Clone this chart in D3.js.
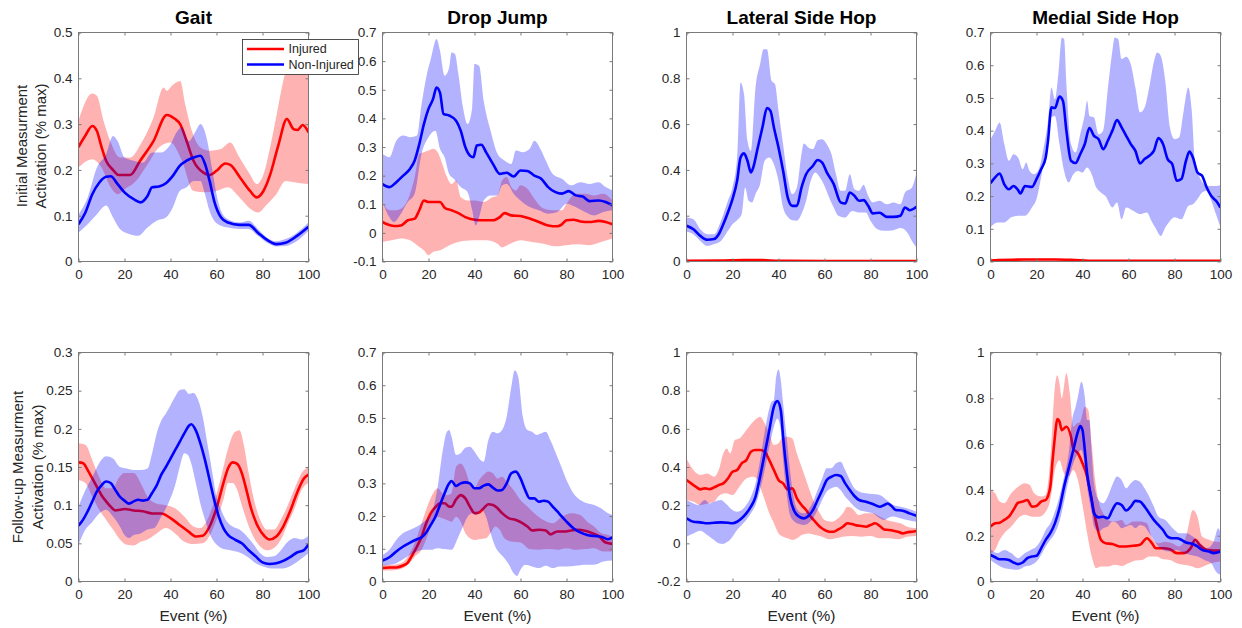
<!DOCTYPE html>
<html>
<head>
<meta charset="utf-8">
<script src="https://cdn.jsdelivr.net/npm/d3@7"></script>
<style>
body { margin: 0; background: #fff; }
text { font-family: "Liberation Sans", Arial, sans-serif; }
</style>
</head>
<body>
<svg id="chart" width="1242" height="628"></svg>
<script>
// ---- categories / labels
var titles = ["Gait", "Drop Jump", "Lateral Side Hop", "Medial Side Hop"];
var seriesNames = ["Injured", "Non-Injured"];
var xTicks = [0, 20, 40, 60, 80, 100];

// y tick values per panel (row 1 then row 2)
var yTicksInit = [
	[0, 0.1, 0.2, 0.3, 0.4, 0.5],
	[-0.1, 0, 0.1, 0.2, 0.3, 0.4, 0.5, 0.6, 0.7],
	[0, 0.2, 0.4, 0.6, 0.8, 1],
	[0, 0.1, 0.2, 0.3, 0.4, 0.5, 0.6, 0.7]
];
var yTicksFollow = [
	[0, 0.05, 0.1, 0.15, 0.2, 0.25, 0.3],
	[0, 0.1, 0.2, 0.3, 0.4, 0.5, 0.6, 0.7],
	[-0.2, 0, 0.2, 0.4, 0.6, 0.8, 1],
	[0, 0.2, 0.4, 0.6, 0.8, 1]
];

// ---- Gait, initial
var gaitInitInjMean = [[0,0.25],[3,0.275],[6,0.296],[8,0.285],[10,0.25],[12,0.22],[15,0.2],[17.4,0.189],[22.5,0.189],[26.8,0.22],[32.6,0.263],[38.4,0.32],[42,0.311],[44.2,0.3],[47,0.263],[50,0.22],[54.3,0.194],[57.2,0.189],[60,0.198],[63.8,0.214],[66,0.211],[70.3,0.183],[74.6,0.154],[77.5,0.14],[80.4,0.154],[83.3,0.189],[87,0.256],[90.6,0.311],[93.5,0.289],[95.2,0.287],[97.5,0.298],[100,0.282]];
var gaitInitInjHi = [[0,0.307],[6,0.367],[8,0.362],[10.9,0.307],[13.8,0.263],[18,0.227],[22.5,0.227],[27,0.256],[32.6,0.314],[37,0.38],[38.4,0.373],[40.6,0.384],[44.2,0.394],[46.4,0.343],[49.3,0.285],[53,0.249],[57.2,0.242],[61.6,0.245],[66,0.26],[70,0.227],[74.6,0.19],[77.5,0.169],[80.4,0.19],[83.3,0.249],[86.2,0.322],[89,0.394],[92,0.45],[96,0.48],[100,0.47]];
var gaitInitInjLo = [[0,0.205],[6,0.223],[10,0.205],[14,0.162],[17,0.147],[20,0.158],[25,0.176],[30,0.212],[35,0.249],[40,0.26],[45,0.22],[50,0.154],[55,0.151],[60,0.154],[65,0.162],[70,0.14],[75,0.114],[78,0.107],[82,0.125],[86,0.147],[90,0.176],[95,0.172],[100,0.169]];
var gaitInitNonMean = [[0,0.0815],[3,0.107],[6,0.147],[9,0.172],[12,0.185],[14,0.186],[17,0.169],[20,0.151],[24,0.136],[27,0.129],[30,0.143],[32,0.162],[35,0.164],[38,0.171],[41,0.187],[44,0.209],[47,0.22],[50,0.227],[53,0.231],[55,0.213],[57,0.176],[59,0.132],[62,0.096],[65,0.085],[70,0.08],[74,0.08],[78,0.063],[82,0.047],[86,0.038],[90,0.041],[95,0.056],[100,0.076]];
var gaitInitNonHi = [[0,0.103],[4,0.14],[8,0.205],[12,0.234],[15,0.274],[17,0.263],[20,0.227],[24,0.22],[28,0.216],[32,0.238],[36,0.238],[40,0.256],[43,0.285],[45,0.293],[48,0.263],[51,0.285],[53,0.3],[56,0.263],[58,0.205],[60,0.147],[62,0.11],[65,0.092],[70,0.085],[74,0.089],[78,0.071],[82,0.052],[86,0.044],[90,0.049],[95,0.063],[100,0.085]];
var gaitInitNonLo = [[0,0.063],[4,0.0815],[8,0.103],[12,0.122],[15,0.096],[18,0.071],[22,0.06],[26,0.056],[30,0.074],[34,0.089],[38,0.096],[41,0.118],[44,0.154],[47,0.162],[50,0.176],[53,0.176],[55,0.147],[57,0.11],[59,0.089],[62,0.078],[65,0.074],[70,0.071],[74,0.071],[78,0.056],[82,0.041],[86,0.033],[90,0.034],[95,0.045],[100,0.067]];

// ---- Drop Jump, initial
var dropInitInjMean = [[0,0.038],[2,0.03],[5,0.024],[8,0.026],[11,0.044],[14,0.05],[16,0.079],[18,0.113],[20,0.108],[23,0.108],[25,0.108],[27,0.088],[30,0.079],[33,0.069],[36,0.055],[40,0.046],[44,0.044],[48,0.044],[51,0.055],[53,0.069],[56,0.061],[60,0.059],[64,0.05],[68,0.038],[72,0.026],[76,0.023],[78,0.03],[80,0.044],[83,0.046],[86,0.04],[90,0.038],[94,0.042],[97,0.038],[100,0.03]];
var dropInitInjHi = [[0,0.108],[3,0.079],[6,0.079],[9,0.09],[12,0.137],[14,0.195],[16,0.276],[18,0.282],[20,0.288],[22,0.294],[24,0.282],[26,0.241],[28,0.195],[30,0.171],[32,0.183],[34,0.125],[37,0.113],[40,0.113],[44,0.108],[48,0.125],[50,0.131],[52,0.183],[54,0.195],[56,0.16],[58,0.148],[60,0.166],[63,0.154],[66,0.119],[70,0.085],[74,0.079],[78,0.079],[80,0.102],[84,0.137],[88,0.137],[92,0.131],[96,0.137],[100,0.113]];
var dropInitInjLo = [[0,-0.032],[4,-0.026],[8,-0.02],[12,-0.026],[15,-0.043],[18,-0.061],[20,-0.078],[22,-0.067],[25,-0.061],[30,-0.04],[35,-0.028],[40,-0.026],[45,-0.026],[50,-0.038],[52,-0.051],[55,-0.04],[60,-0.026],[65,-0.032],[70,-0.038],[75,-0.047],[80,-0.043],[85,-0.04],[90,-0.043],[95,-0.032],[100,-0.02]];
var dropInitNonMean = [[0,0.17],[3,0.16],[6,0.177],[9,0.2],[12,0.224],[14,0.253],[16,0.31],[18,0.38],[20,0.433],[22,0.468],[23.5,0.508],[25,0.49],[26.5,0.416],[29,0.41],[32,0.392],[34,0.357],[36,0.3],[38,0.27],[39.5,0.264],[41,0.305],[43,0.308],[45,0.282],[48,0.241],[51,0.206],[54,0.21],[57,0.197],[60,0.218],[63,0.216],[66,0.2],[69,0.189],[72,0.16],[75,0.143],[78,0.137],[81,0.146],[84,0.131],[87,0.127],[90,0.111],[94,0.113],[97,0.108],[100,0.096]];
var dropInitNonHi = [[0,0.276],[3,0.264],[6,0.322],[9,0.34],[12,0.334],[15,0.34],[17,0.45],[19,0.543],[21,0.607],[23.5,0.677],[25,0.636],[27,0.549],[29,0.578],[30,0.63],[31.5,0.625],[33,0.555],[35,0.438],[37,0.38],[39,0.438],[40,0.59],[42,0.584],[44,0.462],[47,0.357],[50,0.276],[53,0.253],[56,0.241],[58,0.288],[61,0.282],[64,0.294],[66,0.322],[69,0.288],[71,0.253],[74,0.206],[78,0.189],[82,0.166],[86,0.177],[90,0.171],[94,0.177],[97,0.16],[100,0.148]];
var dropInitNonLo = [[0,0.108],[3,0.055],[5,0.038],[8,0.067],[11,0.108],[14,0.137],[17,0.276],[20,0.334],[23,0.357],[25,0.294],[27,0.264],[29,0.206],[31,0.189],[34,0.16],[37,0.142],[39,0.079],[40.5,0.026],[42,0.055],[44,0.113],[47,0.131],[50,0.131],[52,0.166],[54,0.171],[57,0.137],[60,0.113],[64,0.09],[68,0.079],[72,0.067],[76,0.073],[80,0.102],[84,0.09],[88,0.073],[92,0.061],[96,0.073],[100,0.079]];

// ---- Lateral Side Hop, initial
var latInitInjMean = [[0,0.003],[15,0.004],[25,0.006],[33,0.006],[40,0.003],[60,0.002],[100,0.002]];
var latInitInjHi = [[0,0.005],[15,0.007],[25,0.009],[33,0.009],[40,0.005],[60,0.004],[100,0.004]];
var latInitInjLo = [[0,0.001],[15,0.002],[25,0.003],[33,0.003],[40,0.001],[60,0.0],[100,0.0]];
var latInitNonMean = [[0,0.156],[3,0.141],[6,0.112],[9,0.095],[12,0.098],[14,0.119],[16,0.163],[18,0.214],[20,0.272],[22,0.352],[23.5,0.454],[25,0.472],[26.5,0.44],[28,0.389],[29,0.41],[31,0.498],[33,0.585],[35,0.67],[36.5,0.658],[38,0.585],[40,0.498],[42,0.396],[44,0.28],[46,0.243],[48,0.243],[50,0.323],[52,0.381],[55,0.418],[57,0.443],[59,0.432],[61,0.389],[64,0.338],[67,0.258],[69,0.253],[71,0.301],[73,0.287],[75,0.265],[77,0.268],[79,0.243],[81,0.21],[84,0.213],[87,0.195],[90,0.195],[93,0.2],[95,0.236],[97,0.224],[100,0.239]];
var latInitNonHi = [[0,0.192],[3,0.185],[6,0.141],[9,0.119],[12,0.119],[15,0.178],[18,0.265],[20,0.323],[22,0.454],[23.5,0.782],[25,0.731],[26.5,0.527],[28,0.483],[30,0.76],[32,0.862],[33.5,0.927],[35,0.927],[37,0.789],[38.5,0.774],[40,0.658],[42,0.512],[44,0.367],[46,0.294],[48,0.323],[50,0.469],[51,0.515],[53,0.498],[55,0.491],[57,0.53],[59,0.534],[61,0.512],[63,0.469],[65,0.381],[67,0.309],[69,0.309],[71,0.381],[73,0.316],[75,0.309],[77,0.335],[79,0.287],[81,0.258],[84,0.265],[87,0.25],[90,0.258],[93,0.25],[95,0.301],[98,0.323],[100,0.389]];
var latInitNonLo = [[0,0.131],[3,0.119],[6,0.09],[9,0.068],[12,0.076],[15,0.09],[18,0.134],[20,0.163],[22,0.18],[24,0.207],[25.5,0.323],[27,0.265],[28.5,0.258],[30,0.294],[32,0.338],[34,0.44],[36,0.454],[38,0.425],[40,0.352],[42,0.236],[44,0.195],[46,0.18],[48,0.178],[50,0.207],[52,0.265],[54,0.352],[56,0.389],[58,0.367],[60,0.33],[62,0.28],[64,0.236],[66,0.2],[69,0.192],[72,0.221],[75,0.214],[78,0.214],[80,0.178],[83,0.141],[86,0.134],[90,0.137],[93,0.146],[96,0.127],[98,0.09],[100,0.061]];

// ---- Medial Side Hop, initial
var medInitInjMean = [[0,0.003],[15,0.006],[28,0.006],[35,0.005],[45,0.002],[100,0.002]];
var medInitInjHi = [[0,0.005],[15,0.008],[28,0.009],[35,0.007],[45,0.004],[100,0.004]];
var medInitInjLo = [[0,0.001],[15,0.003],[28,0.003],[35,0.002],[45,0.0],[100,0.0]];
var medInitNonMean = [[0,0.239],[2,0.257],[4,0.269],[6,0.236],[8,0.221],[10,0.231],[12,0.218],[13,0.208],[15,0.231],[18,0.228],[20,0.252],[22,0.282],[24,0.318],[25,0.369],[26.5,0.471],[28,0.469],[30,0.504],[31.5,0.491],[33,0.4],[35,0.308],[37,0.301],[39,0.328],[41,0.359],[43,0.408],[45,0.384],[47,0.374],[49,0.343],[51,0.369],[53,0.4],[55,0.432],[57,0.41],[59,0.384],[61,0.359],[63,0.338],[65,0.3],[67,0.313],[69,0.323],[71,0.338],[73,0.377],[75,0.359],[77,0.313],[79,0.298],[81,0.247],[83,0.252],[85,0.308],[86.5,0.336],[88,0.318],[90,0.272],[92,0.262],[94,0.226],[96,0.2],[98,0.186],[100,0.165]];
var medInitNonHi = [[0,0.374],[2,0.4],[4,0.425],[6,0.359],[8,0.308],[10,0.328],[12,0.318],[14,0.282],[15.5,0.303],[17,0.277],[19,0.267],[21,0.282],[23,0.344],[25,0.43],[26.5,0.532],[28,0.496],[29.5,0.573],[31,0.685],[32,0.68],[33,0.542],[35,0.359],[37,0.333],[39,0.389],[41,0.45],[42,0.491],[43,0.445],[45,0.44],[47,0.389],[49,0.4],[51,0.527],[53,0.644],[54,0.685],[55.5,0.68],[57,0.619],[59,0.626],[61,0.603],[63,0.532],[65,0.456],[67,0.471],[69,0.532],[71,0.609],[72.5,0.639],[74,0.629],[76,0.552],[78,0.41],[80,0.374],[82,0.379],[84,0.461],[86,0.532],[87.5,0.461],[89,0.298],[91,0.257],[93,0.236],[95,0.231],[98,0.231],[100,0.234]];
var medInitNonLo = [[0,0.104],[3,0.119],[6,0.119],[9,0.135],[12,0.14],[15,0.14],[18,0.165],[20,0.191],[22,0.257],[24,0.338],[26,0.44],[28,0.445],[30,0.359],[32,0.277],[34,0.242],[36,0.267],[38,0.277],[40,0.272],[42,0.287],[44,0.267],[46,0.226],[48,0.211],[50,0.2],[53,0.165],[55,0.18],[57,0.129],[59,0.165],[62,0.155],[65,0.145],[68,0.15],[70,0.124],[72,0.099],[74,0.078],[76,0.104],[78,0.124],[80,0.135],[83,0.129],[86,0.17],[88,0.175],[90,0.191],[92,0.211],[94,0.216],[96,0.186],[98,0.145],[100,0.104]];

// ---- Gait, follow-up
var gaitFollInjMean = [[0,0.156],[2,0.155],[4,0.146],[6,0.135],[8,0.124],[10,0.113],[12,0.105],[14,0.098],[16,0.093],[18,0.094],[20,0.095],[24,0.093],[28,0.092],[32,0.089],[36,0.089],[40,0.083],[44,0.074],[48,0.065],[51,0.059],[54,0.06],[57,0.072],[60,0.096],[63,0.129],[65,0.148],[67,0.156],[69,0.154],[71,0.142],[73,0.12],[75,0.096],[78,0.072],[81,0.059],[83,0.055],[86,0.059],[89,0.072],[92,0.092],[95,0.116],[98,0.135],[100,0.14]];
var gaitFollInjHi = [[0,0.181],[3,0.179],[6,0.159],[9,0.137],[12,0.122],[15,0.122],[17,0.133],[20,0.142],[24,0.142],[27,0.129],[30,0.111],[34,0.102],[38,0.1],[42,0.096],[46,0.085],[50,0.072],[53,0.07],[56,0.081],[59,0.105],[62,0.137],[65,0.174],[68,0.196],[70,0.198],[72,0.177],[74,0.142],[76,0.111],[79,0.081],[82,0.068],[85,0.068],[88,0.081],[91,0.1],[94,0.122],[97,0.142],[100,0.15]];
var gaitFollInjLo = [[0,0.133],[3,0.129],[6,0.111],[9,0.094],[12,0.081],[15,0.068],[18,0.055],[21,0.048],[24,0.047],[27,0.052],[30,0.055],[34,0.063],[38,0.07],[42,0.063],[46,0.052],[50,0.049],[54,0.05],[57,0.06],[60,0.081],[63,0.107],[65,0.129],[67,0.129],[69,0.12],[71,0.1],[73,0.081],[76,0.059],[79,0.046],[82,0.041],[85,0.044],[88,0.055],[91,0.076],[94,0.096],[97,0.12],[100,0.129]];
var gaitFollNonMean = [[0,0.073],[2,0.081],[4,0.092],[6,0.105],[8,0.118],[10,0.126],[12,0.131],[14,0.129],[16,0.12],[18,0.111],[20,0.106],[22,0.102],[24,0.105],[26,0.107],[28,0.106],[30,0.107],[32,0.116],[34,0.126],[36,0.14],[38,0.15],[40,0.161],[42,0.172],[44,0.183],[46,0.194],[48,0.204],[49,0.206],[51,0.198],[53,0.181],[55,0.159],[57,0.133],[59,0.107],[61,0.085],[63,0.07],[65,0.061],[68,0.055],[71,0.05],[74,0.041],[77,0.033],[80,0.025],[83,0.023],[86,0.024],[89,0.027],[92,0.032],[95,0.038],[98,0.041],[100,0.049]];
var gaitFollNonHi = [[0,0.098],[3,0.12],[6,0.137],[9,0.155],[12,0.164],[15,0.161],[18,0.15],[21,0.148],[24,0.146],[27,0.146],[30,0.148],[32,0.168],[34,0.194],[36,0.211],[38,0.22],[40,0.231],[42,0.242],[44,0.251],[46,0.252],[48,0.246],[50,0.247],[52,0.238],[54,0.216],[56,0.181],[58,0.146],[60,0.111],[62,0.094],[64,0.081],[67,0.072],[70,0.068],[73,0.06],[76,0.049],[79,0.037],[82,0.032],[85,0.033],[88,0.041],[91,0.052],[94,0.057],[97,0.055],[100,0.06]];
var gaitFollNonLo = [[0,0.048],[3,0.068],[6,0.078],[9,0.089],[12,0.094],[15,0.085],[18,0.072],[20,0.061],[22,0.057],[24,0.061],[27,0.063],[30,0.068],[33,0.07],[36,0.085],[39,0.102],[42,0.126],[44,0.15],[46,0.168],[47.5,0.166],[49,0.155],[51,0.129],[53,0.102],[55,0.081],[57,0.063],[59,0.052],[62,0.044],[66,0.041],[70,0.038],[74,0.031],[77,0.024],[80,0.02],[84,0.017],[88,0.017],[92,0.02],[96,0.028],[100,0.037]];

// ---- Drop Jump, follow-up
var dropFollInjMean = [[0,0.041],[3,0.043],[6,0.043],[9,0.049],[11,0.058],[13,0.081],[15,0.107],[17,0.137],[19,0.178],[21,0.209],[23,0.227],[25,0.239],[27,0.239],[29,0.229],[30,0.229],[32,0.251],[34,0.264],[36,0.254],[38,0.229],[40,0.209],[42,0.211],[44,0.224],[46,0.236],[48,0.234],[50,0.224],[52,0.209],[55,0.193],[58,0.188],[61,0.178],[63,0.168],[65,0.156],[68,0.158],[71,0.156],[73,0.144],[76,0.153],[79,0.153],[82,0.156],[85,0.158],[88,0.155],[91,0.148],[94,0.139],[97,0.119],[100,0.115]];
var dropFollInjHi = [[0,0.051],[4,0.051],[8,0.056],[11,0.076],[14,0.117],[17,0.178],[20,0.239],[22,0.27],[24,0.285],[26,0.27],[28,0.264],[30,0.27],[32,0.351],[34,0.361],[36,0.341],[38,0.3],[40,0.285],[42,0.31],[44,0.326],[46,0.336],[48,0.331],[50,0.315],[52,0.32],[54,0.305],[57,0.28],[60,0.249],[63,0.229],[66,0.209],[70,0.188],[74,0.178],[78,0.198],[82,0.209],[86,0.203],[89,0.183],[92,0.168],[95,0.148],[98,0.142],[100,0.137]];
var dropFollInjLo = [[0,0.034],[4,0.034],[8,0.038],[11,0.051],[14,0.076],[17,0.097],[20,0.148],[22,0.188],[24,0.198],[26,0.193],[28,0.188],[30,0.183],[32,0.198],[34,0.183],[36,0.148],[38,0.132],[40,0.127],[42,0.129],[45,0.132],[47,0.148],[49,0.168],[51,0.158],[53,0.132],[56,0.122],[60,0.119],[64,0.099],[68,0.097],[72,0.099],[76,0.097],[80,0.102],[84,0.097],[88,0.099],[92,0.102],[96,0.092],[100,0.092]];
var dropFollNonMean = [[0,0.064],[3,0.074],[6,0.092],[9,0.107],[12,0.119],[15,0.129],[17,0.135],[19,0.15],[21,0.173],[23,0.198],[25,0.234],[27,0.27],[29,0.3],[30,0.307],[32,0.292],[34,0.3],[36,0.303],[38,0.3],[40,0.285],[42,0.285],[44,0.293],[46,0.297],[48,0.287],[50,0.278],[52,0.28],[54,0.3],[56,0.331],[58,0.336],[60,0.315],[62,0.28],[64,0.254],[66,0.254],[68,0.244],[70,0.247],[72,0.244],[74,0.229],[76,0.214],[78,0.198],[80,0.183],[83,0.163],[86,0.15],[89,0.142],[92,0.139],[95,0.137],[98,0.129],[100,0.135]];
var dropFollNonHi = [[0,0.081],[3,0.097],[6,0.127],[9,0.148],[12,0.158],[15,0.168],[18,0.183],[21,0.203],[24,0.29],[26,0.392],[28,0.458],[29,0.463],[30,0.443],[32,0.387],[34,0.392],[36,0.409],[38,0.412],[40,0.397],[42,0.376],[44,0.366],[46,0.432],[48,0.458],[50,0.453],[52,0.463],[54,0.504],[56,0.595],[57.5,0.646],[59,0.626],[61,0.504],[63,0.463],[65,0.458],[67,0.448],[69,0.453],[71,0.458],[73,0.432],[76,0.381],[78,0.346],[80,0.31],[83,0.27],[86,0.249],[89,0.239],[92,0.234],[95,0.224],[98,0.209],[100,0.203]];
var dropFollNonLo = [[0,0.049],[3,0.051],[6,0.056],[9,0.068],[12,0.081],[15,0.092],[18,0.097],[21,0.097],[24,0.102],[27,0.099],[30,0.097],[33,0.137],[35,0.168],[37,0.198],[39,0.209],[41,0.203],[43,0.219],[45,0.198],[47,0.148],[49,0.107],[51,0.086],[53,0.071],[55,0.051],[57,0.025],[58.5,0.017],[60,0.036],[62,0.051],[65,0.046],[68,0.041],[71,0.048],[74,0.041],[77,0.046],[80,0.046],[84,0.048],[88,0.051],[92,0.051],[96,0.061],[100,0.064]];

// ---- Lateral Side Hop, follow-up
var latFollInjMean = [[0,0.332],[2,0.314],[4,0.297],[6,0.283],[8,0.288],[10,0.284],[12,0.293],[14,0.305],[16,0.314],[18,0.34],[20,0.375],[22,0.384],[24,0.419],[26,0.436],[28,0.48],[30,0.489],[32,0.489],[34,0.48],[36,0.436],[38,0.384],[40,0.332],[42,0.314],[44,0.283],[46,0.288],[48,0.236],[50,0.201],[52,0.175],[54,0.14],[56,0.113],[58,0.087],[60,0.07],[62,0.061],[64,0.061],[66,0.073],[68,0.087],[70,0.105],[72,0.101],[74,0.094],[76,0.091],[78,0.087],[80,0.096],[82,0.105],[84,0.091],[86,0.073],[88,0.07],[90,0.066],[92,0.061],[94,0.052],[96,0.058],[98,0.061],[100,0.065]];
var latFollInjHi = [[0,0.445],[3,0.384],[6,0.358],[9,0.366],[12,0.349],[14,0.384],[16,0.471],[17.5,0.497],[19,0.471],[21,0.541],[23,0.55],[26,0.593],[29,0.637],[32,0.663],[34,0.628],[36,0.576],[38,0.515],[40,0.524],[42,0.558],[44,0.558],[46,0.55],[48,0.471],[50,0.401],[52,0.332],[54,0.262],[56,0.201],[58,0.157],[60,0.122],[63,0.113],[66,0.131],[68,0.157],[70,0.192],[72,0.183],[75,0.148],[78,0.157],[81,0.157],[84,0.14],[87,0.122],[90,0.113],[93,0.105],[96,0.087],[100,0.079]];
var latFollInjLo = [[0,0.227],[3,0.218],[6,0.201],[9,0.209],[12,0.218],[14,0.248],[17,0.262],[20,0.253],[23,0.297],[26,0.34],[29,0.349],[31,0.332],[33,0.262],[35,0.192],[36,0.157],[38,0.105],[40,0.052],[42,0.035],[44,0.026],[46,0.017],[48,0.026],[50,0.044],[53,0.052],[56,0.044],[59,0.035],[62,0.021],[65,0.026],[68,0.035],[72,0.038],[76,0.035],[80,0.038],[84,0.026],[88,0.026],[92,0.021],[96,0.035],[100,0.038]];
var latFollNonMean = [[0,0.131],[3,0.113],[6,0.11],[9,0.105],[12,0.108],[15,0.11],[18,0.108],[20,0.105],[22,0.113],[24,0.131],[26,0.157],[28,0.192],[30,0.244],[32,0.349],[34,0.471],[36,0.593],[38,0.716],[39.5,0.745],[41,0.698],[42,0.558],[43.5,0.384],[45,0.244],[47,0.166],[49,0.14],[51,0.131],[53,0.143],[55,0.175],[57,0.227],[59,0.279],[61,0.332],[63,0.349],[65,0.358],[67,0.353],[69,0.314],[71,0.279],[73,0.248],[75,0.227],[78,0.218],[81,0.206],[84,0.192],[86,0.201],[87.5,0.209],[89,0.197],[91,0.175],[94,0.171],[97,0.157],[100,0.145]];
var latFollNonHi = [[0,0.227],[3,0.209],[5,0.201],[8,0.227],[10,0.209],[12,0.218],[15,0.227],[17,0.209],[20,0.175],[22,0.166],[24,0.175],[26,0.201],[28,0.244],[30,0.314],[32,0.436],[34,0.585],[36,0.707],[37,0.742],[38,0.75],[39,0.873],[40,0.911],[41,0.855],[42,0.733],[43.5,0.558],[45,0.384],[47,0.218],[49,0.166],[51,0.157],[53,0.175],[55,0.218],[57,0.279],[59,0.34],[61,0.393],[63,0.393],[65,0.419],[67,0.428],[69,0.384],[71,0.332],[73,0.288],[75,0.271],[78,0.262],[81,0.258],[84,0.253],[87,0.227],[90,0.201],[93,0.192],[96,0.183],[100,0.166]];
var latFollNonLo = [[0,0.035],[3,0.052],[6,0.066],[9,0.044],[12,0.017],[14,0.0],[16,-0.003],[18,0.009],[20,0.035],[22,0.07],[24,0.096],[26,0.122],[28,0.157],[30,0.201],[32,0.279],[34,0.384],[36,0.506],[38,0.611],[39.5,0.654],[41,0.593],[42,0.436],[43.5,0.262],[45,0.148],[47,0.113],[49,0.101],[51,0.096],[53,0.105],[55,0.131],[57,0.175],[59,0.227],[61,0.271],[63,0.288],[65,0.297],[67,0.279],[69,0.244],[71,0.218],[73,0.192],[75,0.175],[78,0.166],[81,0.157],[84,0.131],[86,0.122],[88,0.136],[90,0.14],[93,0.131],[96,0.122],[100,0.113]];

// ---- Medial Side Hop, follow-up
var medFollInjMean = [[0,0.24],[2,0.254],[4,0.257],[6,0.269],[8,0.283],[10,0.313],[12,0.344],[14,0.349],[16,0.356],[18,0.327],[20,0.33],[22,0.349],[24,0.356],[26,0.414],[27,0.53],[28,0.632],[29,0.709],[30,0.698],[31,0.661],[33,0.676],[35,0.632],[36,0.581],[38,0.56],[40,0.516],[42,0.458],[44,0.356],[46,0.254],[48,0.182],[50,0.167],[53,0.164],[56,0.153],[59,0.153],[62,0.156],[65,0.16],[68,0.189],[70,0.17],[72,0.145],[75,0.145],[78,0.141],[81,0.124],[84,0.124],[87,0.145],[89,0.182],[91,0.16],[94,0.138],[97,0.135],[100,0.135]];
var medFollInjHi = [[0,0.4],[2,0.385],[4,0.349],[6,0.342],[9,0.385],[12,0.414],[15,0.429],[17,0.422],[19,0.385],[22,0.371],[24,0.378],[26,0.53],[28,0.85],[29,0.901],[30,0.865],[31,0.8],[33,0.909],[34.5,0.821],[36,0.676],[37.5,0.69],[39,0.698],[41,0.763],[42.5,0.749],[44,0.603],[45.5,0.443],[47,0.349],[49,0.298],[51,0.269],[54,0.262],[57,0.269],[59,0.247],[62,0.262],[65,0.262],[68,0.254],[70,0.196],[73,0.167],[76,0.174],[79,0.167],[82,0.153],[85,0.196],[88,0.312],[90,0.283],[92,0.196],[95,0.182],[98,0.174],[100,0.174]];
var medFollInjLo = [[0,0.124],[2,0.138],[4,0.182],[6,0.211],[9,0.24],[12,0.276],[15,0.291],[18,0.283],[21,0.283],[24,0.305],[26,0.356],[28,0.487],[30,0.53],[32,0.472],[34,0.458],[36,0.487],[38,0.443],[40,0.334],[42,0.211],[44,0.109],[46,0.058],[48,0.065],[51,0.065],[54,0.073],[57,0.068],[60,0.08],[63,0.092],[66,0.094],[69,0.109],[72,0.109],[75,0.097],[78,0.094],[81,0.08],[84,0.073],[87,0.068],[90,0.058],[93,0.068],[96,0.08],[100,0.087]];
var medFollNonMean = [[0,0.116],[2,0.106],[4,0.097],[6,0.097],[8,0.094],[10,0.083],[12,0.076],[14,0.083],[16,0.102],[18,0.109],[20,0.112],[22,0.145],[24,0.182],[26,0.211],[28,0.254],[30,0.32],[32,0.414],[34,0.494],[36,0.574],[38,0.654],[39,0.679],[40,0.661],[41,0.574],[42,0.472],[44,0.356],[45,0.298],[47,0.28],[49,0.283],[51,0.276],[53,0.313],[55,0.342],[57,0.334],[59,0.31],[61,0.327],[63,0.352],[65,0.349],[67,0.327],[69,0.298],[71,0.269],[73,0.247],[75,0.225],[77,0.196],[79,0.189],[81,0.189],[83,0.182],[85,0.17],[88,0.164],[90,0.153],[92,0.138],[95,0.131],[97,0.124],[100,0.131]];
var medFollNonHi = [[0,0.141],[3,0.124],[6,0.138],[9,0.124],[12,0.102],[15,0.124],[18,0.141],[20,0.153],[22,0.182],[24,0.225],[26,0.254],[28,0.305],[30,0.371],[32,0.458],[34,0.56],[35.5,0.705],[37,0.763],[38,0.807],[39.5,0.872],[41,0.807],[42,0.705],[43,0.705],[44,0.56],[45,0.429],[47,0.356],[49,0.342],[51,0.371],[53,0.422],[55,0.458],[57,0.443],[59,0.407],[61,0.429],[63,0.443],[65,0.436],[67,0.407],[69,0.371],[71,0.327],[73,0.283],[76,0.269],[78,0.247],[80,0.225],[82,0.211],[85,0.211],[88,0.196],[91,0.167],[94,0.145],[97,0.174],[99,0.233],[100,0.211]];
var medFollNonLo = [[0,0.094],[3,0.073],[6,0.058],[9,0.054],[12,0.051],[15,0.065],[18,0.073],[20,0.087],[22,0.116],[24,0.153],[26,0.182],[28,0.211],[30,0.262],[32,0.349],[34,0.443],[36,0.516],[38,0.56],[39.5,0.574],[41,0.501],[42,0.414],[44,0.298],[45,0.24],[47,0.218],[49,0.233],[51,0.24],[53,0.262],[55,0.254],[57,0.233],[59,0.24],[61,0.247],[63,0.233],[65,0.247],[67,0.24],[69,0.211],[71,0.182],[73,0.153],[75,0.138],[78,0.131],[81,0.138],[84,0.124],[87,0.116],[90,0.109],[93,0.094],[96,0.08],[98,0.044],[100,0.029]];

// ---- panel table built from the arrays above
var panels = [
	{ row: 0, col: 0, ticks: yTicksInit[0], inj: [gaitInitInjMean, gaitInitInjLo, gaitInitInjHi], non: [gaitInitNonMean, gaitInitNonLo, gaitInitNonHi] },
	{ row: 0, col: 1, ticks: yTicksInit[1], inj: [dropInitInjMean, dropInitInjLo, dropInitInjHi], non: [dropInitNonMean, dropInitNonLo, dropInitNonHi] },
	{ row: 0, col: 2, ticks: yTicksInit[2], inj: [latInitInjMean, latInitInjLo, latInitInjHi], non: [latInitNonMean, latInitNonLo, latInitNonHi] },
	{ row: 0, col: 3, ticks: yTicksInit[3], inj: [medInitInjMean, medInitInjLo, medInitInjHi], non: [medInitNonMean, medInitNonLo, medInitNonHi] },
	{ row: 1, col: 0, ticks: yTicksFollow[0], inj: [gaitFollInjMean, gaitFollInjLo, gaitFollInjHi], non: [gaitFollNonMean, gaitFollNonLo, gaitFollNonHi] },
	{ row: 1, col: 1, ticks: yTicksFollow[1], inj: [dropFollInjMean, dropFollInjLo, dropFollInjHi], non: [dropFollNonMean, dropFollNonLo, dropFollNonHi] },
	{ row: 1, col: 2, ticks: yTicksFollow[2], inj: [latFollInjMean, latFollInjLo, latFollInjHi], non: [latFollNonMean, latFollNonLo, latFollNonHi] },
	{ row: 1, col: 3, ticks: yTicksFollow[3], inj: [medFollInjMean, medFollInjLo, medFollInjHi], non: [medFollNonMean, medFollNonLo, medFollNonHi] }
];

var layout = {
	lefts: [78.5, 382.5, 686.5, 990.5],
	tops: [32.5, 352.5],
	w: 230,
	h: 229
};
var colors = { inj: "#ff0000", non: "#0000ff" };
var axisColor = "#262626";
var boxColor = "#7a7a7a";

var svg = d3.select("#chart");
var fmt = function(v) { return String(+v.toFixed(2)); };

panels.forEach(function(p, i) {
	var left = layout.lefts[p.col], top = layout.tops[p.row];
	var w = layout.w, h = layout.h;
	var x = d3.scaleLinear().domain([0, 100]).range([0, w]);
	var y = d3.scaleLinear().domain([p.ticks[0], p.ticks[p.ticks.length - 1]]).range([h, 0]);

	var g = svg.append("g").attr("transform", "translate(" + left + "," + top + ")");

	g.append("clipPath").attr("id", "clip" + i)
		.append("rect").attr("width", w).attr("height", h);
	var plot = g.append("g").attr("clip-path", "url(#clip" + i + ")");

	var ln = d3.line()
		.x(function(d) { return x(d[0]); })
		.y(function(d) { return y(d[1]); })
		.curve(d3.curveMonotoneX);

	function band(lo, hi) {
		var top_ = ln(hi);
		var bot = ln(lo.slice().reverse());
		return top_ + "L" + bot.substring(1) + "Z";
	}

	// injured first, then non-injured on top (blue band covers red line)
	[["inj", p.inj], ["non", p.non]].forEach(function(s) {
		var c = colors[s[0]];
		plot.append("path")
			.attr("d", band(s[1][1], s[1][2]))
			.attr("fill", c)
			.attr("fill-opacity", 0.3)
			.attr("stroke", "none");
		plot.append("path")
			.attr("d", ln(s[1][0]))
			.attr("fill", "none")
			.attr("stroke", c)
			.attr("stroke-width", 2.6)
			.attr("stroke-linejoin", "round");
	});

	// axes with inward ticks, mirrored on top/right
	var ax = [
		[d3.axisBottom(x).tickValues(xTicks).tickSize(-3).tickPadding(8).tickFormat(fmt), "translate(0," + h + ")"],
		[d3.axisTop(x).tickValues(xTicks).tickSize(-3).tickFormat(""), "translate(0,0)"],
		[d3.axisLeft(y).tickValues(p.ticks).tickSize(-3).tickPadding(6).tickFormat(fmt), "translate(0,0)"],
		[d3.axisRight(y).tickValues(p.ticks).tickSize(-3).tickFormat(""), "translate(" + w + ",0)"]
	];
	ax.forEach(function(a) {
		var ag = g.append("g").attr("transform", a[1]).call(a[0]);
		ag.select(".domain").remove();
		ag.selectAll("line").attr("stroke", boxColor);
		ag.selectAll("text")
			.attr("fill", axisColor)
			.style("font-size", "13.5px")
			.style("font-family", "'Liberation Sans', Arial, sans-serif");
	});

	g.append("rect")
		.attr("width", w).attr("height", h)
		.attr("fill", "none")
		.attr("stroke", boxColor)
		.attr("stroke-width", 1);

	if (p.row === 0) {
		g.append("text")
			.attr("x", w / 2).attr("y", -8.5)
			.attr("text-anchor", "middle")
			.attr("fill", "#000")
			.style("font-size", "19px")
			.style("font-weight", "bold")
			.text(titles[p.col]);
	} else {
		g.append("text")
			.attr("x", w / 2).attr("y", h + 39.5)
			.attr("text-anchor", "middle")
			.attr("fill", axisColor)
			.style("font-size", "15.5px")
			.text("Event (%)");
	}
});

// y axis labels (two lines, rotated)
var yLabels = [
	{ lines: ["Initial Measurment", "Activation (% max)"], cx: [22, 41], cy: 146 },
	{ lines: ["Follow-up Measurment", "Activation (% max)"], cx: [18, 38], cy: 467 }
];
yLabels.forEach(function(l) {
	l.lines.forEach(function(t, j) {
		svg.append("text")
			.attr("transform", "translate(" + l.cx[j] + "," + l.cy + ") rotate(-90)")
			.attr("text-anchor", "middle")
			.attr("dy", "0.35em")
			.attr("fill", axisColor)
			.style("font-size", "15px")
			.text(t);
	});
});

// legend in the first panel
var leg = svg.append("g").attr("transform", "translate(242.5,39.5)");
leg.append("rect")
	.attr("width", 116).attr("height", 35)
	.attr("fill", "#fff")
	.attr("stroke", axisColor)
	.attr("stroke-width", 0.8);
[["inj", 9.5], ["non", 25]].forEach(function(e, j) {
	leg.append("line")
		.attr("x1", 4.5).attr("x2", 41.5)
		.attr("y1", e[1]).attr("y2", e[1])
		.attr("stroke", colors[e[0]])
		.attr("stroke-width", 2.6);
	leg.append("text")
		.attr("x", 46).attr("y", e[1])
		.attr("dy", "0.35em")
		.attr("fill", axisColor)
		.style("font-size", "12.5px")
		.text(seriesNames[j]);
});
</script>
</body>
</html>
